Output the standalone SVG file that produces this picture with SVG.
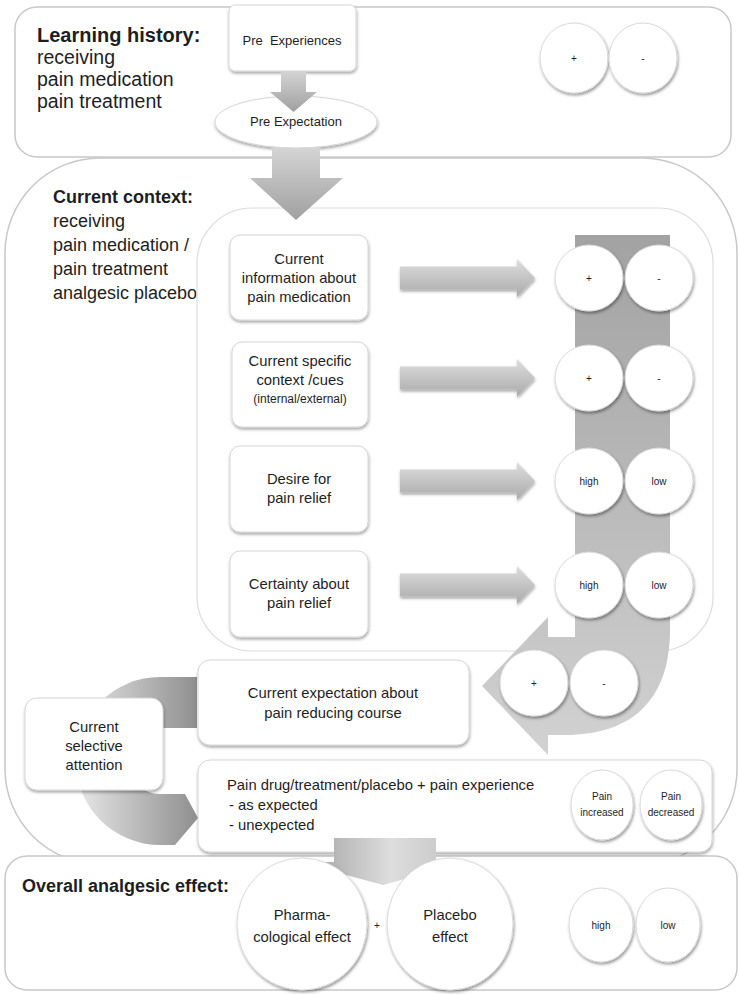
<svg xmlns="http://www.w3.org/2000/svg" width="739" height="994" viewBox="0 0 739 994">
<defs>
<filter id="sh" x="-20%" y="-20%" width="140%" height="150%"><feDropShadow dx="0.5" dy="2" stdDeviation="1.5" flood-color="#000" flood-opacity="0.35"/></filter>
<filter id="shc" x="-20%" y="-20%" width="150%" height="150%"><feDropShadow dx="1" dy="2" stdDeviation="1.6" flood-color="#000" flood-opacity="0.4"/></filter>
<linearGradient id="gDown" x1="0" y1="0" x2="0" y2="1"><stop offset="0" stop-color="#d4d4d4"/><stop offset="1" stop-color="#a0a0a0"/></linearGradient>
<linearGradient id="gRight" x1="0" y1="0" x2="0" y2="1"><stop offset="0" stop-color="#dedede"/><stop offset="0.5" stop-color="#c4c4c4"/><stop offset="1" stop-color="#aaaaaa"/></linearGradient>
<linearGradient id="gBand" gradientUnits="userSpaceOnUse" x1="0" y1="235" x2="0" y2="755"><stop offset="0" stop-color="#a2a2a2"/><stop offset="0.5" stop-color="#b9b9b9"/><stop offset="1" stop-color="#d2d2d2"/></linearGradient>
<linearGradient id="gC" gradientUnits="userSpaceOnUse" x1="70" y1="0" x2="198" y2="0"><stop offset="0" stop-color="#ececec"/><stop offset="1" stop-color="#8e8e8e"/></linearGradient>
<linearGradient id="gBig" gradientUnits="userSpaceOnUse" x1="298" y1="0" x2="466" y2="0"><stop offset="0" stop-color="#9c9c9c"/><stop offset="0.55" stop-color="#dddddd"/><stop offset="1" stop-color="#c2c2c2"/></linearGradient>
</defs>
<style>
.frame{fill:#fff;stroke:#c8c8c8;stroke-width:1.5}
.panel{fill:#fff;stroke:#dcdcdc;stroke-width:1.2}
.node{fill:#fff;stroke:#d6d6d6;stroke-width:1;filter:url(#sh)}
.circ{fill:#fff;stroke:#dadada;stroke-width:1;filter:url(#shc)}
.t{font-family:"Liberation Sans",Arial,sans-serif;fill:#1e1e1e}
.h{font-size:18px;font-weight:bold}
.b{font-size:18px}
.h2{font-size:20px;font-weight:bold}
.b2{font-size:19.5px}
.m{font-size:14.8px;text-anchor:middle}
.s{font-size:12px;text-anchor:middle}
.c{font-size:10px;text-anchor:middle}
.arr{fill:url(#gRight);filter:url(#sh)}
</style>

<g id="current-context">
<rect class="frame" x="5" y="158" width="732" height="706" rx="95"/>
<text class="t h" x="53" y="203">Current context:</text>
<text class="t b" x="53" y="227">receiving</text>
<text class="t b" x="53" y="251">pain medication /</text>
<text class="t b" x="53" y="275">pain treatment</text>
<text class="t b" x="53" y="299">analgesic placebo</text>
</g>
<g id="overall-analgesic-effect">
<rect class="frame" x="5" y="856" width="732" height="134" rx="22"/>
<text class="t h" x="22" y="892">Overall analgesic effect:</text>
</g>
<g id="learning-history">
<rect class="frame" x="15" y="7" width="716" height="150" rx="22"/>
<text class="t h2" x="37" y="42">Learning history:</text>
<text class="t b2" x="37" y="64">receiving</text>
<text class="t b2" x="37" y="86">pain medication</text>
<text class="t b2" x="37" y="108">pain treatment</text>
</g>
<g id="inner-panel">
<rect class="panel" x="197" y="208" width="516" height="443" rx="55"/>
</g>

<g id="pre-experiences">
<rect class="node" x="229" y="5" width="127" height="66" rx="6"/>
<text class="t" x="292" y="45" font-size="13" text-anchor="middle" style="white-space:pre">Pre  Experiences</text>
</g>
<g id="pre-expectation">
<ellipse class="node" cx="296" cy="122" rx="81" ry="26"/>
<text class="t" x="296" y="126" font-size="13" text-anchor="middle">Pre Expectation</text>
</g>
<g id="pain-drug-experience">
<rect class="node" x="198" y="760" width="514" height="92" rx="12"/>
<text class="t" x="227" y="790" font-size="14.8">Pain drug/treatment/placebo + pain experience</text>
<text class="t" x="229" y="810" font-size="14.8">- as expected</text>
<text class="t" x="229" y="830" font-size="14.8">- unexpected</text>
</g>

<g id="connectors">
<path fill="url(#gDown)" d="M281 71 H306 V92 H317 L293.5 112 L270 92 H281 Z"/>
<path fill="url(#gDown)" d="M272 148 H320 V178 H343 L296 220 L250 178 H272 Z"/>
<path class="arr" d="M400 266.5 H517 V259 L535 278 L517 297 V289.5 H400 Z"/>
<path class="arr" d="M400 366.5 H517 V359 L535 378 L517 397 V389.5 H400 Z"/>
<path class="arr" d="M400 469.5 H517 V462 L535 481 L517 500 V492.5 H400 Z"/>
<path class="arr" d="M400 573.5 H517 V566 L535 585 L517 604 V596.5 H400 Z"/>
<path fill="url(#gBand)" d="M575 235 H670 V630 C670 700 632 735 565 735 H548 V755 L482 686 L548 617 V637 H575 Z"/>
<path fill="url(#gC)" d="M197 677 H160 A84 84 0 0 0 160 845 H175 L198 818 L185 794 H160 A33 33 0 0 1 160 728 H197 Z"/>
<path fill="url(#gBig)" d="M334 838 H436 V862 H466 L383 885 L298 862 H334 Z"/>
</g>

<g id="top-circles">
<ellipse class="circ" cx="574" cy="58" rx="34" ry="35"/>
<ellipse class="circ" cx="643" cy="58" rx="34" ry="35"/>
<text class="t c" x="574" y="62">+</text>
<text class="t c" x="643" y="62">-</text>
</g>
<g id="current-information">
<rect class="node" x="230" y="235" width="138" height="85" rx="10"/>
<text class="t m" x="299" y="264">Current</text>
<text class="t m" x="299" y="283">information about</text>
<text class="t m" x="299" y="302">pain medication</text>
</g>
<g id="current-context-cues">
<rect class="node" x="232" y="342" width="136" height="85" rx="10"/>
<text class="t m" x="300" y="366">Current specific</text>
<text class="t m" x="300" y="385">context /cues</text>
<text class="t s" x="300" y="403">(internal/external)</text>
</g>
<g id="desire-for-relief">
<rect class="node" x="230" y="446" width="138" height="86" rx="10"/>
<text class="t m" x="299" y="484">Desire for</text>
<text class="t m" x="299" y="503">pain relief</text>
</g>
<g id="certainty-about-relief">
<rect class="node" x="230" y="551" width="138" height="86" rx="10"/>
<text class="t m" x="299" y="589">Certainty about</text>
<text class="t m" x="299" y="608">pain relief</text>
</g>
<g id="circles-information">
<ellipse class="circ" cx="589" cy="278" rx="34" ry="33"/>
<ellipse class="circ" cx="659" cy="278" rx="34" ry="33"/>
<text class="t c" x="589" y="282">+</text>
<text class="t c" x="659" y="282">-</text>
</g>
<g id="circles-cues">
<ellipse class="circ" cx="589" cy="378" rx="34" ry="33"/>
<ellipse class="circ" cx="659" cy="378" rx="34" ry="33"/>
<text class="t c" x="589" y="382">+</text>
<text class="t c" x="659" y="382">-</text>
</g>
<g id="circles-desire">
<ellipse class="circ" cx="589" cy="481" rx="34" ry="33"/>
<ellipse class="circ" cx="659" cy="481" rx="34" ry="33"/>
<text class="t c" x="589" y="485">high</text>
<text class="t c" x="659" y="485">low</text>
</g>
<g id="circles-certainty">
<ellipse class="circ" cx="589" cy="585" rx="34" ry="33"/>
<ellipse class="circ" cx="659" cy="585" rx="34" ry="33"/>
<text class="t c" x="589" y="589">high</text>
<text class="t c" x="659" y="589">low</text>
</g>
<g id="circles-expectation">
<ellipse class="circ" cx="534" cy="683" rx="34" ry="33"/>
<ellipse class="circ" cx="604" cy="683" rx="34" ry="33"/>
<text class="t c" x="534" y="687">+</text>
<text class="t c" x="604" y="687">-</text>
</g>
<g id="current-expectation">
<rect class="node" x="198" y="660" width="271" height="85" rx="12"/>
<text class="t m" x="333" y="698">Current expectation about</text>
<text class="t m" x="333" y="718">pain reducing course</text>
</g>
<g id="selective-attention">
<rect class="node" x="25" y="698" width="138" height="92" rx="12"/>
<text class="t m" x="94" y="732">Current</text>
<text class="t m" x="94" y="751">selective</text>
<text class="t m" x="94" y="770">attention</text>
</g>
<g id="pain-circles">
<ellipse class="circ" cx="602" cy="805" rx="31" ry="35"/>
<ellipse class="circ" cx="671" cy="805" rx="31" ry="35"/>
<text class="t c" x="602" y="800">Pain</text>
<text class="t c" x="602" y="816">increased</text>
<text class="t c" x="671" y="800">Pain</text>
<text class="t c" x="671" y="816">decreased</text>
</g>
<g id="pharmacological-effect">
<ellipse class="circ" cx="302" cy="924" rx="65" ry="66"/>
<text class="t m" x="302" y="920" font-size="15">Pharma-</text>
<text class="t m" x="302" y="942" font-size="15">cological effect</text>
</g>
<text class="t c" x="377" y="929" font-size="9">+</text>
<g id="placebo-effect">
<ellipse class="circ" cx="450" cy="924" rx="63" ry="66"/>
<text class="t m" x="450" y="920" font-size="15">Placebo</text>
<text class="t m" x="450" y="942" font-size="15">effect</text>
</g>
<g id="effect-circles">
<ellipse class="circ" cx="601" cy="925" rx="32" ry="37"/>
<ellipse class="circ" cx="668" cy="925" rx="32" ry="37"/>
<text class="t c" x="601" y="929">high</text>
<text class="t c" x="668" y="929">low</text>
</g>
</svg>
